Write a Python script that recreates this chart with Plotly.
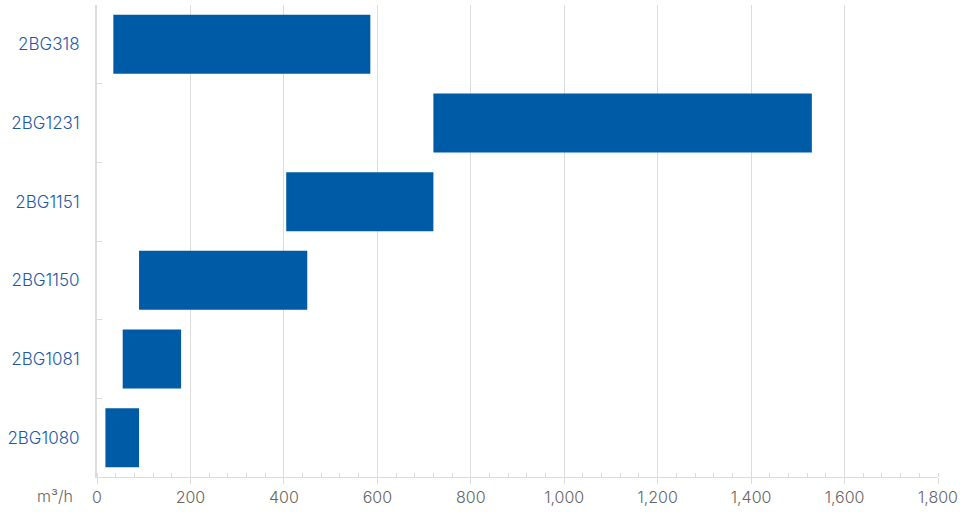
import plotly.graph_objects as go

# flow range per pump model, m3/h
models = ["2BG318", "2BG1231", "2BG1151", "2BG1150", "2BG1081", "2BG1080"]
flow_min = [35, 720, 405, 90, 55, 18]
flow_max = [585, 1530, 720, 450, 180, 90]

BLUE = "#005BA6"
GRID = "#dcdcdc"
FONT = "Inter"

fig = go.Figure()

fig.add_trace(go.Bar(
    y=models,
    x=[hi - lo for lo, hi in zip(flow_min, flow_max)],
    base=flow_min,
    orientation="h",
    marker=dict(color=BLUE, line=dict(width=0)),
    width=0.75,
    hoverinfo="skip",
))

fig.update_layout(
    width=974,
    height=516,
    margin=dict(l=97, r=36, t=5, b=39),
    plot_bgcolor="white",
    paper_bgcolor="white",
    showlegend=False,
    font=dict(family=FONT, size=15, color="#666666", weight=300),
    xaxis=dict(
        range=[0, 1800],
        dtick=200,
        tickformat=",d",
        showgrid=True,
        gridcolor=GRID,
        gridwidth=1,
        zeroline=False,
        showline=True,
        linecolor=GRID,
        ticks="outside",
        ticklen=6,
        tickcolor=GRID,
        minor=dict(dtick=40, ticks="inside", ticklen=4, tickcolor=GRID, showgrid=False),
        tickfont=dict(family=FONT, size=16, color="#666666", weight=300),
    ),
    yaxis=dict(
        categoryorder="array",
        categoryarray=models[::-1],
        showgrid=False,
        zeroline=False,
        showline=True,
        linecolor=GRID,
        linewidth=2,
        ticks="inside",
        tickson="boundaries",
        ticklen=5,
        tickcolor=GRID,
        ticklabelstandoff=12,
        tickfont=dict(family=FONT, size=17, color="#1d5aa6", weight=300),
    ),
)

fig.add_annotation(
    text="m³/h",
    xref="paper", yref="paper",
    x=-0.05, y=0, yshift=-19,
    xanchor="center", yanchor="middle",
    showarrow=False,
    font=dict(family=FONT, size=16, color="#666666", weight=300),
)

fig.write_html("out.html", config={"displayModeBar": False},
               post_script="document.body.style.margin='0';")
